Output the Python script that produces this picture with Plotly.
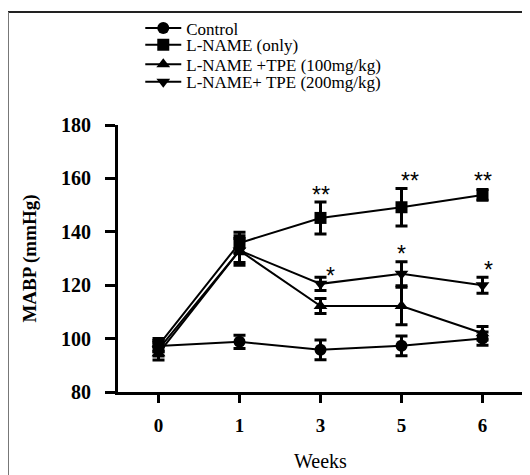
import plotly.graph_objects as go

weeks = ["0", "1", "3", "5", "6"]
series_names = ["Control", "L-NAME (only)", "L-NAME +TPE (100mg/kg)", "L-NAME+ TPE (200mg/kg)"]
control = [97.2, 98.8, 95.8, 97.3, 100.0]
control_err = [2.0, 2.5, 3.7, 3.7, 2.5]
lname = [97.5, 135.8, 145.2, 149.2, 153.8]
lname_err = [2.5, 4.0, 6.0, 7.0, 2.0]
tpe100 = [94.5, 133.0, 112.2, 112.2, 102.0]
tpe100_err = [2.5, 5.5, 2.8, 7.0, 2.5]
tpe200 = [96.0, 133.0, 120.5, 124.3, 120.0]
tpe200_err = [2.5, 4.5, 2.5, 4.5, 3.0]
y_ticks = [80, 100, 120, 140, 160, 180]

symbols = ["circle", "square", "triangle-up", "triangle-down"]
values = [control, lname, tpe100, tpe200]
errs = [control_err, lname_err, tpe100_err, tpe200_err]
legend_ids = ["legend", "legend2", "legend3", "legend4"]
legend_y = [1.362, 1.299, 1.226, 1.160]

fig = go.Figure()
for name, sym, v, e, lid in zip(series_names, symbols, values, errs, legend_ids):
    fig.add_trace(go.Scatter(
        x=weeks, y=v, name=name, mode="lines+markers",
        line=dict(color="black", width=2),
        marker=dict(symbol=sym, size=12, color="black"),
        error_y=dict(type="data", array=e, visible=True, color="black", thickness=3, width=6),
        legend=lid,
    ))

serif = "Liberation Serif, Times New Roman, serif"
leg_common = dict(x=0.055, xanchor="left", yanchor="middle", bgcolor="rgba(0,0,0,0)",
                  font=dict(family=serif, size=17, color="black"), itemwidth=36)
layout_legends = {}
for lid, ly in zip(legend_ids, legend_y):
    layout_legends[lid] = dict(y=ly, **leg_common)

# significance marks
stars = [
    ("**", 2, 153.6), ("**", 3.1, 159.0), ("**", 4.0, 159.0),
    ("*", 2.12, 123.5), ("*", 3.0, 131.5), ("*", 4.08, 125.7),
]
annotations = [dict(x=sx, y=sy, xref="x", yref="y", text=t, showarrow=False,
                    font=dict(family="Liberation Sans, Arial", size=23, color="black"))
               for t, sx, sy in stars]

fig.update_layout(
    width=530, height=475,
    margin=dict(l=110, r=15, t=117, b=91, autoexpand=False),
    paper_bgcolor="white", plot_bgcolor="white",
    showlegend=True,
    annotations=annotations,
    xaxis=dict(type="category", categoryorder="array", categoryarray=weeks,
               range=[-0.5, 4.5], showgrid=False, zeroline=False,
               showline=True, linecolor="black", linewidth=3,
               ticks="outside", ticklen=8, tickwidth=3, tickcolor="black",
               tickfont=dict(family=serif, size=19, color="black", weight="bold"),
               ticklabelstandoff=6,
               title=dict(text="Weeks", font=dict(family=serif, size=20, color="black"), standoff=20)),
    yaxis=dict(range=[80, 180], tickvals=y_ticks, showgrid=False, zeroline=False,
               showline=True, linecolor="black", linewidth=3,
               ticks="outside", ticklen=10, tickwidth=3, tickcolor="black",
               tickfont=dict(family=serif, size=20, color="black", weight="bold"),
               ticklabelstandoff=10,
               title=dict(text="MABP (mmHg)", font=dict(family=serif, size=19, color="black", weight="bold"), standoff=20)),
    shapes=[
        dict(type="line", xref="paper", yref="paper", x0=-0.2716, x1=1.05, y0=1.423, y1=1.423,
             line=dict(color="#222222", width=2)),
        dict(type="line", xref="paper", yref="paper", x0=-0.2716, x1=-0.2716, y0=1.423, y1=-0.35,
             line=dict(color="#777777", width=2)),
    ],
    **layout_legends,
)

fig.write_html("out.html")
